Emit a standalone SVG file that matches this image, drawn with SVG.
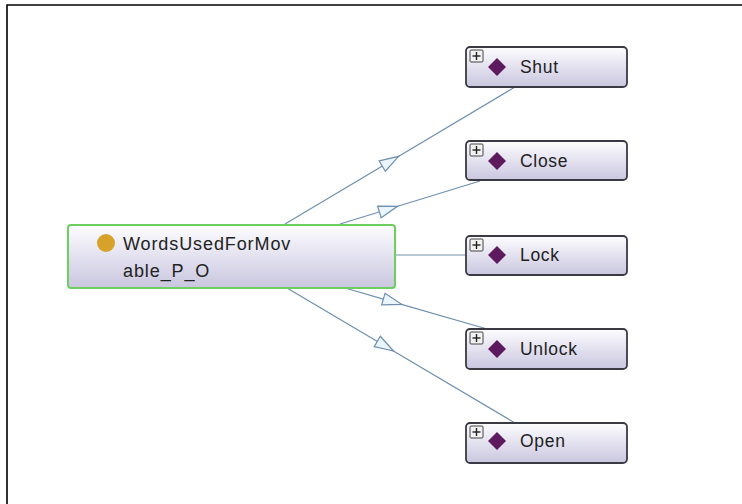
<svg xmlns="http://www.w3.org/2000/svg" width="742" height="504" viewBox="0 0 742 504">
<style>
.frame{fill:none;stroke:#000;stroke-width:1.6}
.edge{fill:none;stroke:#6e8fae;stroke-width:1.2}
.ind{fill:url(#g);stroke:#3a3a44;stroke-width:1.8}
.cls{fill:url(#g);stroke:#6ccf60;stroke-width:2}
.lbl{font-family:"Liberation Sans",Arial,sans-serif;font-size:17.5px;fill:#222;letter-spacing:0.7px}
.clbl{font-family:"Liberation Sans",Arial,sans-serif;font-size:18px;fill:#222;letter-spacing:0.9px}
.dia{fill:#5e1a5e}
.pbox{fill:#f2f2f2;stroke:#444;stroke-width:1}
.plus{stroke:#222;stroke-width:1.4}
</style>
<defs>
<linearGradient id="g" x1="0" y1="0" x2="0" y2="1">
<stop offset="0" stop-color="#fdfdff"/>
<stop offset="1" stop-color="#c9c6df"/>
</linearGradient>
<marker id="tri" markerUnits="userSpaceOnUse" markerWidth="24" markerHeight="16" refX="10" refY="7" orient="auto">
<path d="M1,1 L20,7 L1,13 z" fill="#eaf6fb" stroke="#6e8fae" stroke-width="1.2"/>
</marker>
<g id="plusicon">
<rect class="pbox" x="0" y="0" width="13" height="12" rx="1"/>
<line class="plus" x1="2.5" y1="6" x2="10.5" y2="6"/>
<line class="plus" x1="6.5" y1="2" x2="6.5" y2="10"/>
</g>
</defs>
<rect width="742" height="504" fill="#fff"/>
<path class="frame" d="M7,504 V5 H742"/>
<g id="connectors">
<path class="edge" d="M285,224 L390,161.5 L515,87" marker-mid="url(#tri)"/>
<path class="edge" d="M340,224 L388,209.3 L480,181" marker-mid="url(#tri)"/>
<path class="edge" d="M395,255 L466,255"/>
<path class="edge" d="M345,288 L392,301.6 L487,329" marker-mid="url(#tri)"/>
<path class="edge" d="M287,288 L385,346 L515,423" marker-mid="url(#tri)"/>
</g>
<g id="WordsUsedForMovable_P_O">
<rect class="cls" x="68" y="225" width="327" height="63" rx="3"/>
<circle cx="106" cy="243" r="9" fill="#d6a22a"/>
<text class="clbl" x="123" y="250">WordsUsedForMov</text>
<text class="clbl" x="123" y="277">able_P_O</text>
</g>
<g id="Shut">
<rect class="ind" x="466" y="47" width="161" height="40" rx="4"/>
<use href="#plusicon" x="470" y="50"/>
<path class="dia" d="M497,58 L506,67 L497,76 L488,67 z"/>
<text class="lbl" x="520" y="73">Shut</text>
</g>
<g id="Close">
<rect class="ind" x="466" y="141" width="161" height="39" rx="4"/>
<use href="#plusicon" x="470" y="144"/>
<path class="dia" d="M497,152 L506,161 L497,170 L488,161 z"/>
<text class="lbl" x="520" y="167">Close</text>
</g>
<g id="Lock">
<rect class="ind" x="466" y="236" width="161" height="39" rx="4"/>
<use href="#plusicon" x="470" y="239"/>
<path class="dia" d="M497,246 L506,255 L497,264 L488,255 z"/>
<text class="lbl" x="520" y="261">Lock</text>
</g>
<g id="Unlock">
<rect class="ind" x="466" y="329" width="161" height="40" rx="4"/>
<use href="#plusicon" x="470" y="332"/>
<path class="dia" d="M497,340 L506,349 L497,358 L488,349 z"/>
<text class="lbl" x="520" y="355">Unlock</text>
</g>
<g id="Open">
<rect class="ind" x="466" y="423" width="161" height="40" rx="4"/>
<use href="#plusicon" x="470" y="426"/>
<path class="dia" d="M497,432 L506,441 L497,450 L488,441 z"/>
<text class="lbl" x="520" y="447">Open</text>
</g>
</svg>
